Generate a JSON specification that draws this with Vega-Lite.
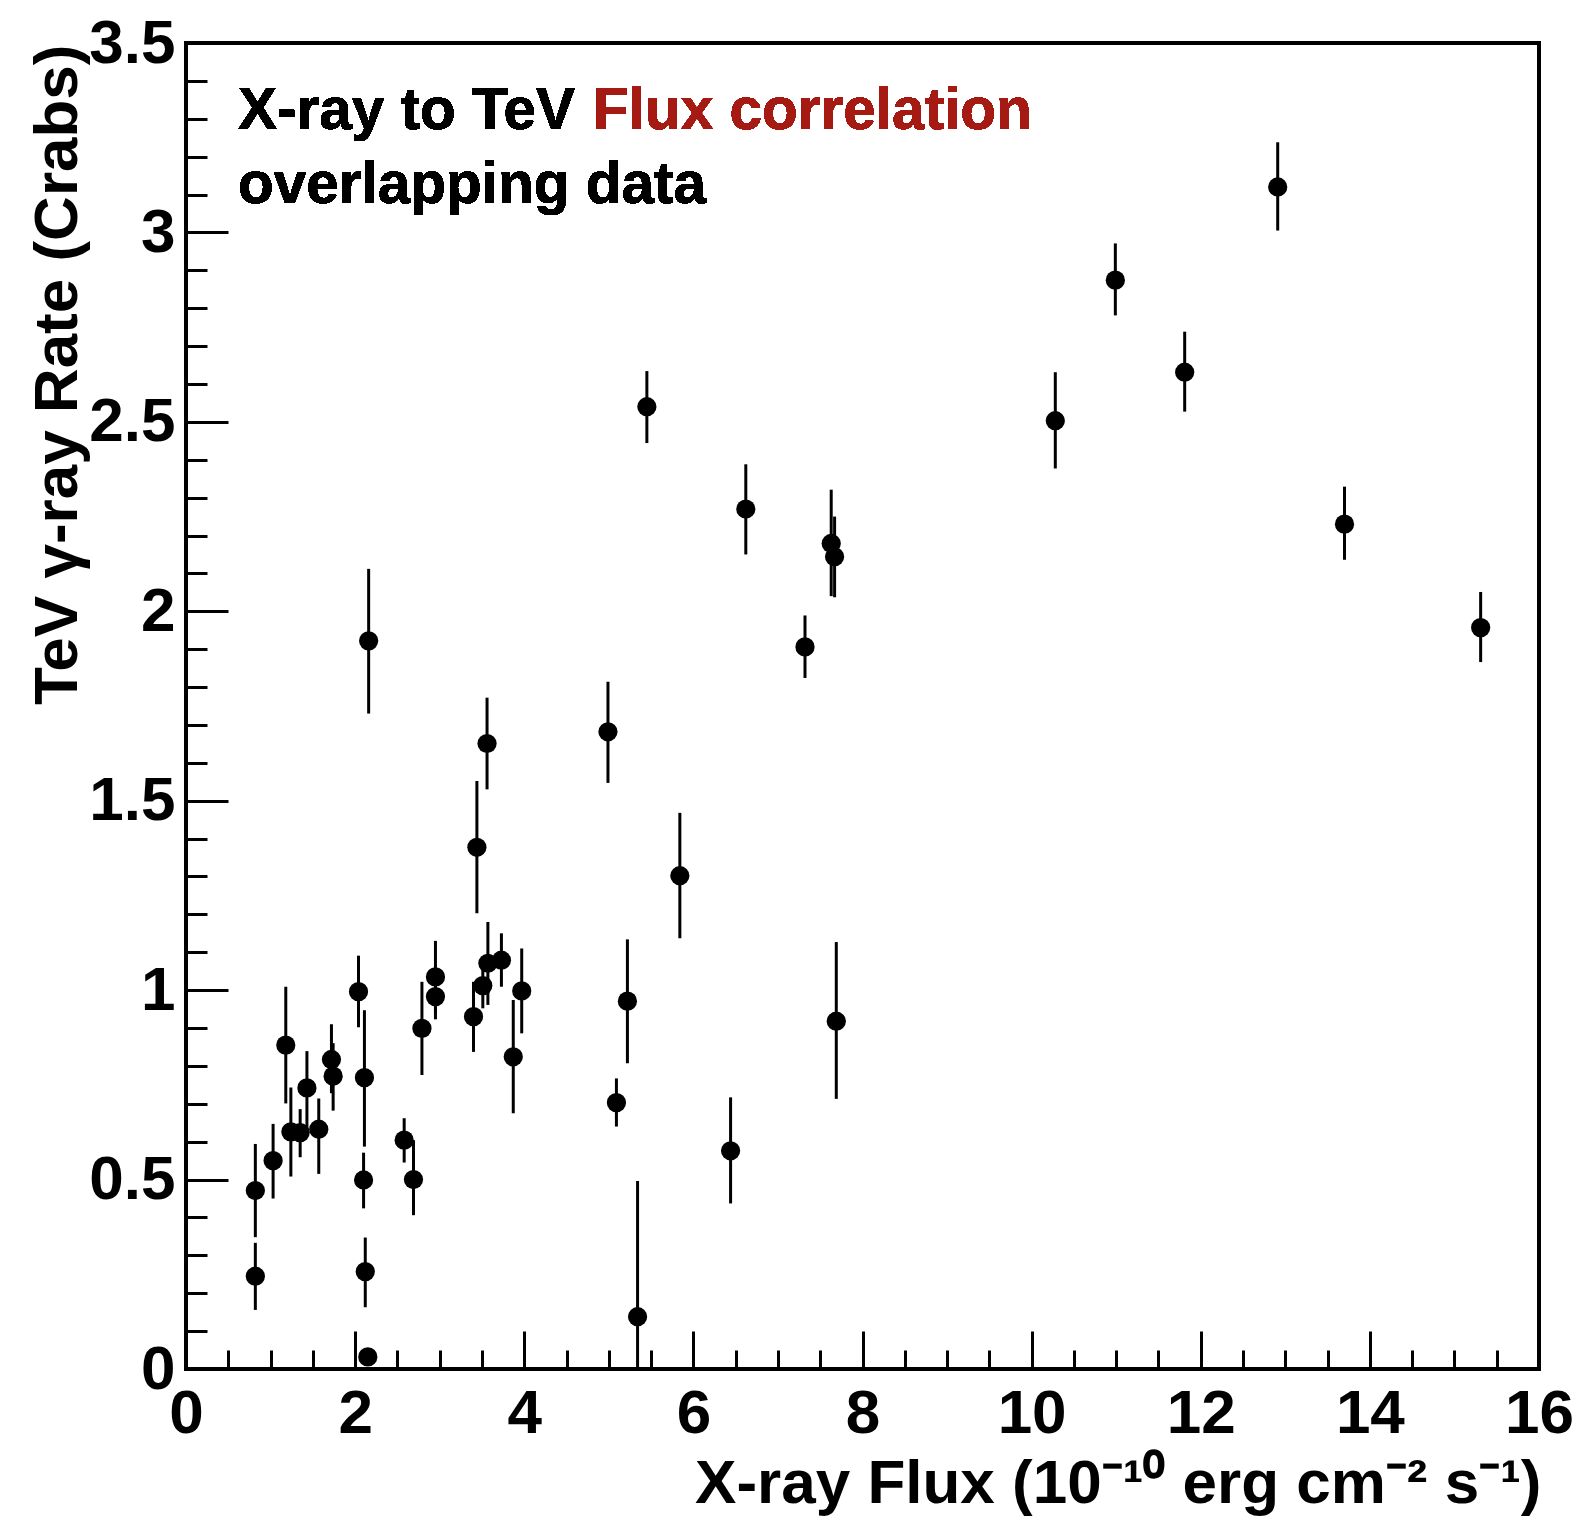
{
  "$schema": "https://vega.github.io/schema/vega-lite/v6.json",
  "width": 1353,
  "height": 1326,
  "autosize": "none",
  "padding": {"left": 186, "top": 43, "right": 49, "bottom": 148},
  "background": "white",
  "config": {
    "view": {"stroke": "black", "strokeWidth": 4},
    "axis": {
      "domain": false,
      "grid": false,
      "tickColor": "black",
      "tickWidth": 3,
      "labelFont": "Liberation Sans",
      "labelFontWeight": "bold",
      "labelFontSize": 62,
      "labelColor": "black",
      "labelFlush": false,
      "labelOverlap": false,
      "titleFont": "Liberation Sans",
      "titleFontWeight": "bold",
      "titleFontSize": 62,
      "titleColor": "black"
    }
  },
  "data": {
    "values": [
      {"x": 0.82, "y": 0.471, "lo": 0.348, "hi": 0.594},
      {"x": 0.82, "y": 0.245, "lo": 0.156, "hi": 0.333},
      {"x": 1.03, "y": 0.55, "lo": 0.45, "hi": 0.647},
      {"x": 1.18, "y": 0.855, "lo": 0.701, "hi": 1.009},
      {"x": 1.24, "y": 0.626, "lo": 0.508, "hi": 0.743},
      {"x": 1.35, "y": 0.624, "lo": 0.559, "hi": 0.686},
      {"x": 1.43, "y": 0.742, "lo": 0.62, "hi": 0.839},
      {"x": 1.57, "y": 0.633, "lo": 0.515, "hi": 0.714},
      {"x": 1.72, "y": 0.817, "lo": 0.728, "hi": 0.91},
      {"x": 1.74, "y": 0.773, "lo": 0.682, "hi": 0.86},
      {"x": 2.04, "y": 0.996, "lo": 0.902, "hi": 1.091},
      {"x": 2.11, "y": 0.769, "lo": 0.587, "hi": 0.947},
      {"x": 2.1, "y": 0.499, "lo": 0.424, "hi": 0.571},
      {"x": 2.12, "y": 0.257, "lo": 0.163, "hi": 0.347},
      {"x": 2.15, "y": 0.032, "lo": 0.012, "hi": 0.052},
      {"x": 2.16, "y": 1.922, "lo": 1.73, "hi": 2.112},
      {"x": 2.58, "y": 0.604, "lo": 0.545, "hi": 0.662},
      {"x": 2.69, "y": 0.5, "lo": 0.406, "hi": 0.604},
      {"x": 2.79, "y": 0.899, "lo": 0.776, "hi": 1.022},
      {"x": 2.95, "y": 1.035, "lo": 0.94, "hi": 1.13},
      {"x": 2.95, "y": 0.983, "lo": 0.923, "hi": 1.043},
      {"x": 3.4, "y": 0.93, "lo": 0.837, "hi": 1.022},
      {"x": 3.51, "y": 1.012, "lo": 0.952, "hi": 1.082},
      {"x": 3.57, "y": 1.071, "lo": 0.961, "hi": 1.18},
      {"x": 3.73, "y": 1.079, "lo": 1.009, "hi": 1.15},
      {"x": 3.97, "y": 0.998, "lo": 0.886, "hi": 1.11},
      {"x": 3.87, "y": 0.824, "lo": 0.675, "hi": 0.974},
      {"x": 3.56, "y": 1.651, "lo": 1.53, "hi": 1.772},
      {"x": 3.44, "y": 1.377, "lo": 1.203, "hi": 1.552},
      {"x": 4.99, "y": 1.682, "lo": 1.547, "hi": 1.814},
      {"x": 5.84, "y": 1.302, "lo": 1.137, "hi": 1.468},
      {"x": 5.22, "y": 0.971, "lo": 0.807, "hi": 1.134},
      {"x": 5.09, "y": 0.703, "lo": 0.64, "hi": 0.767},
      {"x": 5.34, "y": 0.138, "lo": -0.22, "hi": 0.496},
      {"x": 6.44, "y": 0.576, "lo": 0.437, "hi": 0.717},
      {"x": 7.69, "y": 0.918, "lo": 0.713, "hi": 1.127},
      {"x": 5.45, "y": 2.54, "lo": 2.444, "hi": 2.634},
      {"x": 6.62, "y": 2.27, "lo": 2.15, "hi": 2.388},
      {"x": 7.63, "y": 2.179, "lo": 2.04, "hi": 2.321},
      {"x": 7.67, "y": 2.144, "lo": 2.037, "hi": 2.25},
      {"x": 7.32, "y": 1.906, "lo": 1.824, "hi": 1.989},
      {"x": 10.28, "y": 2.503, "lo": 2.377, "hi": 2.631},
      {"x": 10.99, "y": 2.874, "lo": 2.781, "hi": 2.971},
      {"x": 11.81, "y": 2.631, "lo": 2.527, "hi": 2.738},
      {"x": 12.91, "y": 3.12, "lo": 3.005, "hi": 3.238},
      {"x": 13.7, "y": 2.23, "lo": 2.136, "hi": 2.329},
      {"x": 15.31, "y": 1.957, "lo": 1.866, "hi": 2.051}
    ]
  },
  "layer": [
    {
      "mark": {"type": "rule", "color": "black", "strokeWidth": 3, "clip": true},
      "encoding": {
        "x": {
          "field": "x", "type": "quantitative",
          "scale": {"domain": [0, 16], "nice": false, "zero": false},
          "axis": {
            "orient": "bottom",
            "values": [0, 2, 4, 6, 8, 10, 12, 14, 16],
            "format": "~g",
            "tickSize": -38,
            "labelPadding": 52,
            "title": "X-ray Flux (10⁻¹⁰ erg cm⁻² s⁻¹)",
            "titleAnchor": "end",
            "titleAlign": "right",
            "titleBaseline": "alphabetic",
            "titleX": 1355,
            "titleY": 133
          }
        },
        "y": {
          "field": "lo", "type": "quantitative",
          "scale": {"domain": [0, 3.5], "nice": false, "zero": false},
          "axis": {
            "orient": "left",
            "values": [0, 0.5, 1, 1.5, 2, 2.5, 3, 3.5],
            "format": "~g",
            "tickSize": -42,
            "labelPadding": 53,
            "title": "TeV γ-ray Rate (Crabs)",
            "titleAnchor": "end",
            "titleAngle": 270,
            "titleAlign": "right",
            "titleBaseline": "alphabetic",
            "titleX": -110,
            "titleY": 1
          }
        },
        "y2": {"field": "hi"}
      }
    },
    {
      "mark": {"type": "circle", "color": "black", "opacity": 1, "size": 370},
      "encoding": {
        "x": {
          "field": "x", "type": "quantitative",
          "axis": {
            "orient": "bottom",
            "values": [0.5, 1, 1.5, 2.5, 3, 3.5, 4.5, 5, 5.5, 6.5, 7, 7.5, 8.5, 9, 9.5, 10.5, 11, 11.5, 12.5, 13, 13.5, 14.5, 15, 15.5],
            "tickSize": -19,
            "labels": false,
            "title": null
          }
        },
        "y": {
          "field": "y", "type": "quantitative",
          "axis": {
            "orient": "left",
            "values": [0.1, 0.2, 0.3, 0.4, 0.6, 0.7, 0.8, 0.9, 1.1, 1.2, 1.3, 1.4, 1.6, 1.7, 1.8, 1.9, 2.1, 2.2, 2.3, 2.4, 2.6, 2.7, 2.8, 2.9, 3.1, 3.2, 3.3, 3.4],
            "tickSize": -21,
            "labels": false,
            "title": null
          }
        }
      }
    },
    {
      "mark": {"type": "text", "text": "X-ray to TeV", "font": "Liberation Sans", "fontWeight": "bold", "fontSize": 58.5, "align": "left", "baseline": "alphabetic", "color": "black"},
      "encoding": {
        "x": {"datum": 0.615, "type": "quantitative", "axis": null},
        "y": {"datum": 3.273, "type": "quantitative", "axis": null}
      }
    },
    {
      "mark": {"type": "text", "text": "Flux correlation", "font": "Liberation Sans", "fontWeight": "bold", "fontSize": 58.5, "align": "left", "baseline": "alphabetic", "color": "#a51a12"},
      "encoding": {
        "x": {"datum": 4.813, "type": "quantitative", "axis": null},
        "y": {"datum": 3.273, "type": "quantitative", "axis": null}
      }
    },
    {
      "mark": {"type": "text", "text": "overlapping data", "font": "Liberation Sans", "fontWeight": "bold", "fontSize": 58.5, "align": "left", "baseline": "alphabetic", "color": "black"},
      "encoding": {
        "x": {"datum": 0.615, "type": "quantitative", "axis": null},
        "y": {"datum": 3.077, "type": "quantitative", "axis": null}
      }
    }
  ],
  "resolve": {"axis": {"x": "independent", "y": "independent"}}
}
